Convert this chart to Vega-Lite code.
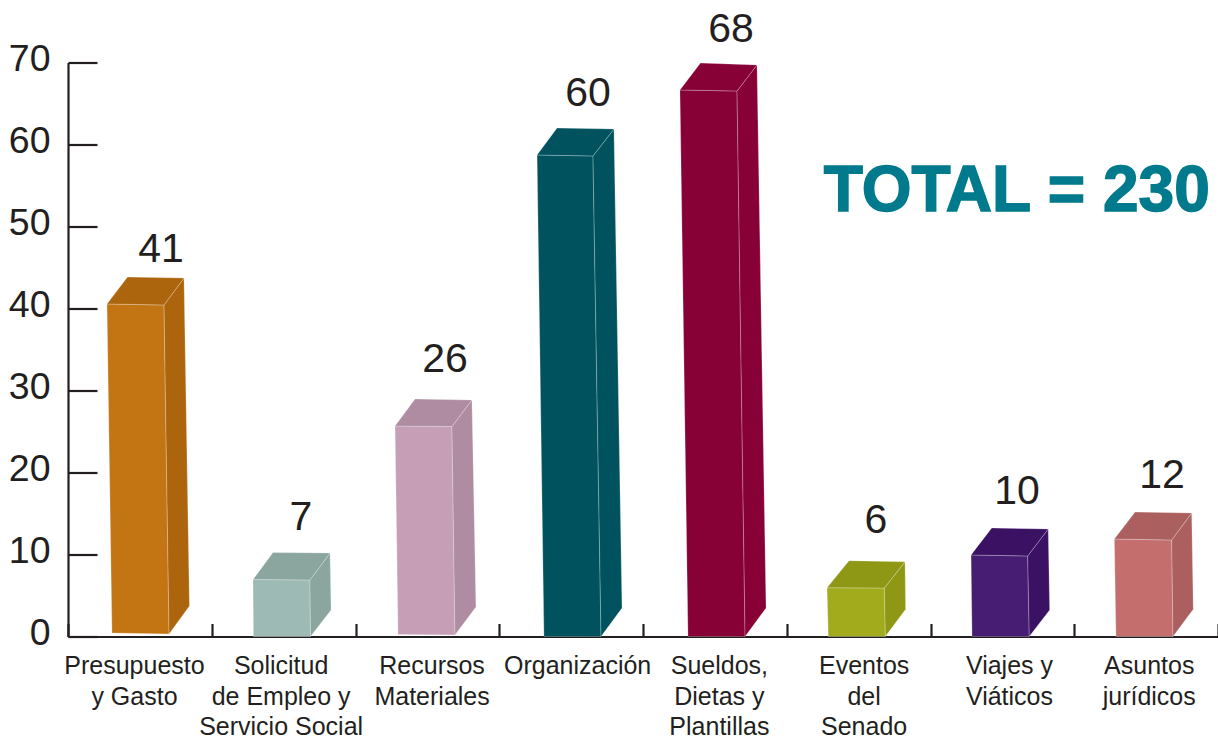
{"$schema":"https://vega.github.io/schema/vega-lite/v6.json","width":1150,"height":574,"autosize":"none","padding":{"left":68,"top":62.5,"right":0,"bottom":101.5},"background":"white",
"datasets":{
"barras":[
{"categoria":"Presupuesto y Gasto","valor":41,"posicion":0.647,"altura":47.4},
{"categoria":"Solicitud de Empleo y Servicio Social","valor":7,"posicion":1.621,"altura":14.7},
{"categoria":"Recursos Materiales","valor":26,"posicion":2.623,"altura":33.96},
{"categoria":"Organización","valor":60,"posicion":3.617,"altura":66.4},
{"categoria":"Sueldos, Dietas y Plantillas","valor":68,"posicion":4.612,"altura":74.2},
{"categoria":"Eventos del Senado","valor":6,"posicion":5.621,"altura":14.33},
{"categoria":"Viajes y Viáticos","valor":10,"posicion":6.602,"altura":17.87},
{"categoria":"Asuntos jurídicos","valor":12,"posicion":7.61,"altura":19.8}],
"caras":[
{"cara":"presupuesto-frente","o":1,"x":0.271,"y":40.55},{"cara":"presupuesto-frente","o":2,"x":0.668,"y":40.43},{"cara":"presupuesto-frente","o":3,"x":0.703,"y":0.3},{"cara":"presupuesto-frente","o":4,"x":0.306,"y":0.43},
{"cara":"presupuesto-lado","o":1,"x":0.668,"y":40.43},{"cara":"presupuesto-lado","o":2,"x":0.807,"y":43.72},{"cara":"presupuesto-lado","o":3,"x":0.845,"y":3.72},{"cara":"presupuesto-lado","o":4,"x":0.703,"y":0.3},
{"cara":"presupuesto-techo","o":1,"x":0.271,"y":40.55},{"cara":"presupuesto-techo","o":2,"x":0.414,"y":43.84},{"cara":"presupuesto-techo","o":3,"x":0.807,"y":43.72},{"cara":"presupuesto-techo","o":4,"x":0.668,"y":40.43},
{"cara":"solicitud-frente","o":1,"x":1.287,"y":6.95},{"cara":"solicitud-frente","o":2,"x":1.683,"y":6.89},{"cara":"solicitud-frente","o":3,"x":1.687,"y":0},{"cara":"solicitud-frente","o":4,"x":1.29,"y":0},
{"cara":"solicitud-lado","o":1,"x":1.683,"y":6.89},{"cara":"solicitud-lado","o":2,"x":1.823,"y":10.18},{"cara":"solicitud-lado","o":3,"x":1.83,"y":3.23},{"cara":"solicitud-lado","o":4,"x":1.687,"y":0},
{"cara":"solicitud-techo","o":1,"x":1.287,"y":6.95},{"cara":"solicitud-techo","o":2,"x":1.426,"y":10.24},{"cara":"solicitud-techo","o":3,"x":1.823,"y":10.18},{"cara":"solicitud-techo","o":4,"x":1.683,"y":6.89},
{"cara":"recursos-frente","o":1,"x":2.275,"y":25.67},{"cara":"recursos-frente","o":2,"x":2.671,"y":25.61},{"cara":"recursos-frente","o":3,"x":2.692,"y":0.18},{"cara":"recursos-frente","o":4,"x":2.296,"y":0.24},
{"cara":"recursos-lado","o":1,"x":2.671,"y":25.61},{"cara":"recursos-lado","o":2,"x":2.81,"y":28.84},{"cara":"recursos-lado","o":3,"x":2.838,"y":3.6},{"cara":"recursos-lado","o":4,"x":2.692,"y":0.18},
{"cara":"recursos-techo","o":1,"x":2.275,"y":25.67},{"cara":"recursos-techo","o":2,"x":2.414,"y":28.96},{"cara":"recursos-techo","o":3,"x":2.81,"y":28.84},{"cara":"recursos-techo","o":4,"x":2.671,"y":25.61},
{"cara":"organizacion-frente","o":1,"x":3.263,"y":58.72},{"cara":"organizacion-frente","o":2,"x":3.652,"y":58.6},{"cara":"organizacion-frente","o":3,"x":3.708,"y":0},{"cara":"organizacion-frente","o":4,"x":3.311,"y":0},
{"cara":"organizacion-lado","o":1,"x":3.652,"y":58.6},{"cara":"organizacion-lado","o":2,"x":3.798,"y":61.89},{"cara":"organizacion-lado","o":3,"x":3.854,"y":3.48},{"cara":"organizacion-lado","o":4,"x":3.708,"y":0},
{"cara":"organizacion-techo","o":1,"x":3.263,"y":58.72},{"cara":"organizacion-techo","o":2,"x":3.402,"y":62.01},{"cara":"organizacion-techo","o":3,"x":3.798,"y":61.89},{"cara":"organizacion-techo","o":4,"x":3.652,"y":58.6},
{"cara":"sueldos-frente","o":1,"x":4.257,"y":66.65},{"cara":"sueldos-frente","o":2,"x":4.654,"y":66.52},{"cara":"sueldos-frente","o":3,"x":4.71,"y":0},{"cara":"sueldos-frente","o":4,"x":4.313,"y":0},
{"cara":"sueldos-lado","o":1,"x":4.654,"y":66.52},{"cara":"sueldos-lado","o":2,"x":4.793,"y":69.7},{"cara":"sueldos-lado","o":3,"x":4.856,"y":3.48},{"cara":"sueldos-lado","o":4,"x":4.71,"y":0},
{"cara":"sueldos-techo","o":1,"x":4.257,"y":66.65},{"cara":"sueldos-techo","o":2,"x":4.4,"y":69.94},{"cara":"sueldos-techo","o":3,"x":4.793,"y":69.7},{"cara":"sueldos-techo","o":4,"x":4.654,"y":66.52},
{"cara":"eventos-frente","o":1,"x":5.28,"y":5.95},{"cara":"eventos-frente","o":2,"x":5.679,"y":5.91},{"cara":"eventos-frente","o":3,"x":5.686,"y":0},{"cara":"eventos-frente","o":4,"x":5.289,"y":0},
{"cara":"eventos-lado","o":1,"x":5.679,"y":5.91},{"cara":"eventos-lado","o":2,"x":5.823,"y":9.12},{"cara":"eventos-lado","o":3,"x":5.827,"y":3.32},{"cara":"eventos-lado","o":4,"x":5.686,"y":0},
{"cara":"eventos-techo","o":1,"x":5.28,"y":5.95},{"cara":"eventos-techo","o":2,"x":5.433,"y":9.24},{"cara":"eventos-techo","o":3,"x":5.823,"y":9.12},{"cara":"eventos-techo","o":4,"x":5.679,"y":5.91},
{"cara":"viajes-frente","o":1,"x":6.282,"y":9.94},{"cara":"viajes-frente","o":2,"x":6.676,"y":9.82},{"cara":"viajes-frente","o":3,"x":6.687,"y":0},{"cara":"viajes-frente","o":4,"x":6.289,"y":0},
{"cara":"viajes-lado","o":1,"x":6.676,"y":9.82},{"cara":"viajes-lado","o":2,"x":6.819,"y":13.11},{"cara":"viajes-lado","o":3,"x":6.829,"y":3.23},{"cara":"viajes-lado","o":4,"x":6.687,"y":0},
{"cara":"viajes-techo","o":1,"x":6.282,"y":9.94},{"cara":"viajes-techo","o":2,"x":6.426,"y":13.23},{"cara":"viajes-techo","o":3,"x":6.819,"y":13.11},{"cara":"viajes-techo","o":4,"x":6.676,"y":9.82},
{"cara":"asuntos-frente","o":1,"x":7.279,"y":11.89},{"cara":"asuntos-frente","o":2,"x":7.678,"y":11.77},{"cara":"asuntos-frente","o":3,"x":7.687,"y":0},{"cara":"asuntos-frente","o":4,"x":7.29,"y":0},
{"cara":"asuntos-lado","o":1,"x":7.678,"y":11.77},{"cara":"asuntos-lado","o":2,"x":7.817,"y":15.06},{"cara":"asuntos-lado","o":3,"x":7.828,"y":3.32},{"cara":"asuntos-lado","o":4,"x":7.687,"y":0},
{"cara":"asuntos-techo","o":1,"x":7.279,"y":11.89},{"cara":"asuntos-techo","o":2,"x":7.423,"y":15.18},{"cara":"asuntos-techo","o":3,"x":7.817,"y":15.06},{"cara":"asuntos-techo","o":4,"x":7.678,"y":11.77}
],
"nota":[{"texto":"TOTAL = 230","x":6.6,"y":54.2}]},
"layer":[
{"data":{"name":"barras"},"mark":{"type":"bar","opacity":0},
"encoding":{
"x":{"field":"categoria","type":"nominal","sort":null,"title":null,"scale":{"paddingInner":0,"paddingOuter":0},
"axis":{"tickBand":"extent","labelAngle":0,"labelFont":"Liberation Sans","labelFontSize":25,"labelColor":"#231F20","labelBaseline":"top","labelPadding":30,"labelLineHeight":30.5,
"labelOffset":{"condition":[{"test":"datum.value === 'Presupuesto y Gasto'","value":-5.9},{"test":"datum.value === 'Solicitud de Empleo y Servicio Social'","value":-3},{"test":"datum.value === 'Recursos Materiales'","value":4.2},{"test":"datum.value === 'Organización'","value":6},{"test":"datum.value === 'Sueldos, Dietas y Plantillas'","value":4},{"test":"datum.value === 'Eventos del Senado'","value":5},{"test":"datum.value === 'Viajes y Viáticos'","value":6.6}],"value":2.6},
"labelOverlap":false,"labelBound":false,"labelLimit":400,"grid":false,"domainColor":"#231F20","domainWidth":2.2,"tickColor":"#231F20","tickWidth":2.2,"tickSize":-13,
"labelExpr":"{'Presupuesto y Gasto':['Presupuesto','y Gasto'],'Solicitud de Empleo y Servicio Social':['Solicitud','de Empleo y','Servicio Social'],'Recursos Materiales':['Recursos','Materiales'],'Organización':['Organización'],'Sueldos, Dietas y Plantillas':['Sueldos,','Dietas y','Plantillas'],'Eventos del Senado':['Eventos','del','Senado'],'Viajes y Viáticos':['Viajes y','Viáticos'],'Asuntos jurídicos':['Asuntos','jurídicos']}[datum.label]"}},
"y":{"field":"valor","type":"quantitative","title":null,"scale":{"domain":[0,70],"nice":false},
"axis":{"values":[0,10,20,30,40,50,60,70],"grid":false,"labelFont":"Liberation Sans","labelFontSize":37.5,"labelColor":"#231F20","labelPadding":47,"labelOffset":-3.5,"labelOverlap":false,"labelBound":false,"domainColor":"#231F20","domainWidth":2.2,"tickColor":"#231F20","tickWidth":2.2,"tickSize":-29}}}},
{"data":{"name":"caras"},"mark":{"type":"line","interpolate":"linear-closed","stroke":"#ffffff","strokeOpacity":0.3,"strokeWidth":0.8,"clip":false},
"encoding":{
"x":{"field":"x","type":"quantitative","scale":{"domain":[0,8],"nice":false},"axis":null},
"y":{"field":"y","type":"quantitative"},
"order":{"field":"o"},
"fill":{"field":"cara","type":"nominal","legend":null,"scale":{
"domain":["presupuesto-frente","presupuesto-lado","presupuesto-techo","solicitud-frente","solicitud-lado","solicitud-techo","recursos-frente","recursos-lado","recursos-techo","organizacion-frente","organizacion-lado","organizacion-techo","sueldos-frente","sueldos-lado","sueldos-techo","eventos-frente","eventos-lado","eventos-techo","viajes-frente","viajes-lado","viajes-techo","asuntos-frente","asuntos-lado","asuntos-techo"],
"range":["#C47513","#AD650D","#AD650D","#9DBAB4","#8BA59F","#8BA59F","#C69FB6","#AF8CA1","#AF8CA1","#00535E","#00535E","#00535E","#870036","#870036","#870036","#A1AB1C","#8F9815","#8F9815","#471D74","#3A1163","#3A1163","#C56E6E","#AB5F5F","#AB5F5F"]}}}},
{"data":{"name":"barras"},"mark":{"type":"text","font":"Liberation Sans","fontSize":41,"color":"#231F20","baseline":"middle","align":"center","dy":2},
"encoding":{
"x":{"field":"posicion","type":"quantitative","scale":{"domain":[0,8],"nice":false},"axis":null},
"y":{"field":"altura","type":"quantitative"},
"text":{"field":"valor","type":"quantitative"}}},
{"data":{"name":"nota"},"mark":{"type":"text","font":"Liberation Sans","fontWeight":"bold","fontSize":64,"color":"#007A8C","stroke":"#007A8C","strokeWidth":1.5,"baseline":"middle","align":"center"},
"encoding":{
"x":{"field":"x","type":"quantitative","scale":{"domain":[0,8],"nice":false},"axis":null},
"y":{"field":"y","type":"quantitative"},
"text":{"field":"texto","type":"nominal"}}}
],
"resolve":{"scale":{"x":"independent"},"axis":{"x":"independent"}},
"config":{"view":{"stroke":null}}}
